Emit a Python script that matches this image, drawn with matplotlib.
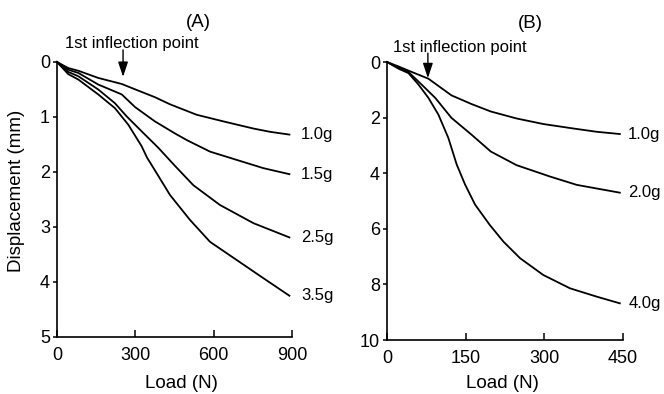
"""
Load-displacement curves for two specimen series, (A) and (B)
"""
import matplotlib
matplotlib.use("Agg")
import matplotlib.pyplot as plt

plt.rcParams["font.family"] = ["Liberation Sans", "DejaVu Sans"]

## Panel A: load (N) vs displacement (mm)
load_a_10 = [0, 43, 82, 158, 248, 311, 375, 433, 535, 637, 752, 816, 890]
disp_a_10 = [0, 0.11, 0.16, 0.29, 0.40, 0.52, 0.64, 0.77, 0.96, 1.08, 1.21, 1.27, 1.32]
load_a_15 = [0, 43, 82, 158, 248, 299, 375, 452, 497, 586, 688, 790, 890]
disp_a_15 = [0, 0.14, 0.20, 0.41, 0.59, 0.82, 1.08, 1.30, 1.42, 1.63, 1.78, 1.93, 2.04]
load_a_25 = [0, 43, 82, 158, 222, 267, 324, 388, 452, 522, 624, 752, 890]
disp_a_25 = [0, 0.18, 0.26, 0.50, 0.75, 0.99, 1.26, 1.56, 1.89, 2.24, 2.60, 2.93, 3.19]
load_a_35 = [0, 43, 82, 158, 222, 273, 324, 345, 375, 433, 509, 586, 688, 790, 890]
disp_a_35 = [0, 0.22, 0.32, 0.59, 0.84, 1.14, 1.53, 1.74, 1.97, 2.42, 2.87, 3.27, 3.60,
             3.93, 4.25]

## Panel B
load_b_10 = [0, 22, 41, 79, 123, 161, 198, 247, 298, 355, 400, 444]
disp_b_10 = [0, 0.16, 0.31, 0.60, 1.20, 1.51, 1.78, 2.03, 2.23, 2.39, 2.51, 2.59]
load_b_20 = [0, 22, 41, 66, 92, 123, 161, 198, 247, 311, 362, 444]
disp_b_20 = [0, 0.20, 0.36, 0.81, 1.29, 2.01, 2.61, 3.22, 3.71, 4.12, 4.42, 4.70]
load_b_40 = [0, 22, 41, 60, 79, 98, 117, 133, 149, 168, 196, 222, 254, 298, 349, 400, 444]
disp_b_40 = [0, 0.24, 0.40, 0.81, 1.29, 1.89, 2.73, 3.69, 4.41, 5.13, 5.86, 6.46, 7.06,
             7.66, 8.14, 8.44, 8.68]

labels_a = ["1.0g", "1.5g", "2.5g", "3.5g"]
labels_b = ["1.0g", "2.0g", "4.0g"]

series_a = [(load_a_10, disp_a_10), (load_a_15, disp_a_15),
            (load_a_25, disp_a_25), (load_a_35, disp_a_35)]
series_b = [(load_b_10, disp_b_10), (load_b_20, disp_b_20), (load_b_40, disp_b_40)]

xticks_a = [0, 300, 600, 900]
yticks_a = [0, 1, 2, 3, 4, 5]
xticks_b = [0, 150, 300, 450]
yticks_b = [0, 2, 4, 6, 8, 10]

# inflection arrows: (load, shaft top, tip displacement)
inflect_a = (253, -0.22, 0.27)
inflect_b = (78, -0.32, 0.58)

fig = plt.figure(figsize=(6.64, 3.94), dpi=100)
axA = fig.add_axes([0.0858, 0.1447, 0.354, 0.698])
axB = fig.add_axes([0.5828, 0.137, 0.3554, 0.7056])


def style_axis(ax, xticks, yticks):
    ax.set_xlim(xticks[0], xticks[-1])
    ax.set_ylim(yticks[-1], yticks[0])
    ax.set_xticks(xticks)
    ax.set_yticks(yticks)
    ax.spines["top"].set_visible(False)
    ax.spines["right"].set_visible(False)
    for s in ("left", "bottom"):
        ax.spines[s].set_linewidth(1.2)
    ax.tick_params(axis="x", direction="in", length=5, width=1.1, labelsize=13, pad=7)
    ax.tick_params(axis="y", direction="out", length=3, width=1.1, labelsize=13, pad=2)
    ax.set_xlabel("Load (N)", fontsize=13.5)


panels = [(axA, series_a, labels_a, xticks_a, yticks_a, 8.5),
          (axB, series_b, labels_b, xticks_b, yticks_b, 6)]
for ax, series, labels, xt, yt, off in panels:
    style_axis(ax, xt, yt)
    for (x, y), lab in zip(series, labels):
        ax.plot(x, y, color="black", lw=1.3, clip_on=False)
        ax.annotate(lab, (x[-1], y[-1]), xytext=(off, 0), textcoords="offset points",
                    va="center", ha="left", fontsize=12, annotation_clip=False)

axA.xaxis.set_label_coords(0.53, -0.138)
axB.xaxis.set_label_coords(0.49, -0.126)

axA.set_ylabel("Displacement (mm)", fontsize=13.5)
axA.yaxis.set_label_coords(-0.135, 0.53)

axA.text(0.6, 1.145, "(A)", transform=axA.transAxes, ha="center", va="center", fontsize=13.5)
axB.text(0.606, 1.137, "(B)", transform=axB.transAxes, ha="center", va="center", fontsize=13.5)

for ax, (xa, ytop, ytip), tx, ty in [(axA, inflect_a, 0.319, 1.069),
                                     (axB, inflect_b, 0.309, 1.054)]:
    ax.text(tx, ty, "1st inflection point", transform=ax.transAxes,
            ha="center", va="center", fontsize=12)
    ax.annotate("", xy=(xa, ytip), xytext=(xa, ytop), annotation_clip=False,
                arrowprops=dict(arrowstyle="-|>,head_length=0.9,head_width=0.3",
                                color="black", lw=1.0, shrinkA=0, shrinkB=0))

fig.savefig("out.png", dpi=100)
